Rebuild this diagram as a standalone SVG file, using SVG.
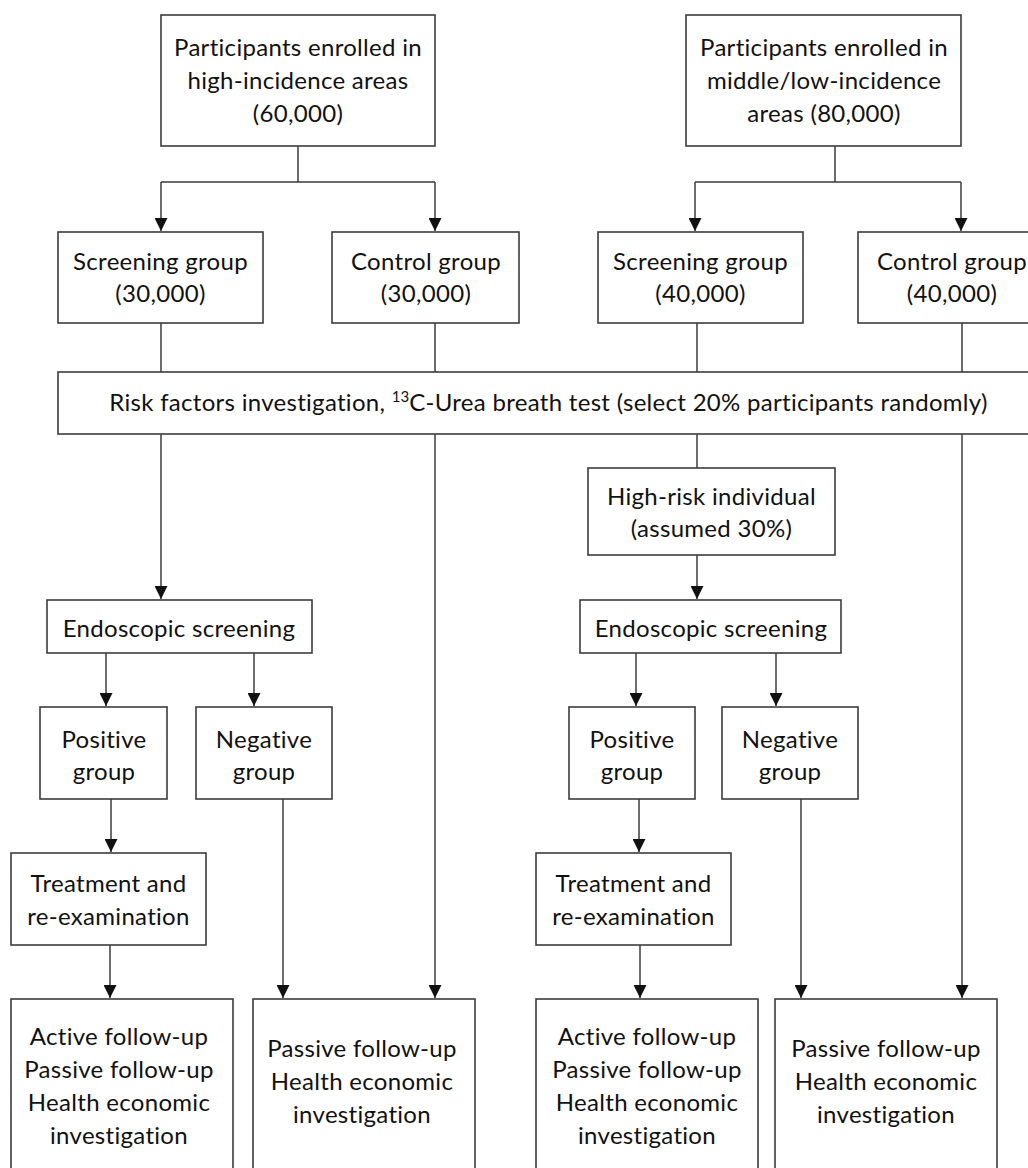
<svg xmlns="http://www.w3.org/2000/svg" width="1028" height="1168" viewBox="0 0 1028 1168">
<style>
.box{fill:#fff;stroke:#3c3c3c;stroke-width:1.6}
.t{font-family:Lato,"Open Sans","Liberation Sans",sans-serif;font-size:24px;letter-spacing:0.3px;fill:#111;text-anchor:middle}
.sup{font-size:15px;letter-spacing:0}
.c{fill:none;stroke:#3c3c3c;stroke-width:1.5}
</style>
<defs>
<marker id="ah" markerUnits="userSpaceOnUse" markerWidth="13" markerHeight="13" refX="13" refY="6.5" orient="auto">
<path d="M0,0 L13,6.5 L0,13 z" fill="#111"/>
</marker>
</defs>
<rect width="1028" height="1168" fill="#fff"/>
<g id="connectors">
<path class="c" d="M298,146 V182 M161,182 H435"/>
<path class="c" d="M161,182 V231" marker-end="url(#ah)"/>
<path class="c" d="M435,182 V231" marker-end="url(#ah)"/>
<path class="c" d="M835,146 V182 M695,182 H961"/>
<path class="c" d="M695,182 V231" marker-end="url(#ah)"/>
<path class="c" d="M961,182 V231" marker-end="url(#ah)"/>
<path class="c" d="M161,323 V372 M435,323 V372 M697,323 V372 M962,323 V372"/>
<path class="c" d="M161,434 V599" marker-end="url(#ah)"/>
<path class="c" d="M435,434 V998" marker-end="url(#ah)"/>
<path class="c" d="M697,434 V468"/>
<path class="c" d="M962,434 V998" marker-end="url(#ah)"/>
<path class="c" d="M697,555 V599" marker-end="url(#ah)"/>
<path class="c" d="M106,653 V706" marker-end="url(#ah)"/>
<path class="c" d="M254,653 V706" marker-end="url(#ah)"/>
<path class="c" d="M636,653 V706" marker-end="url(#ah)"/>
<path class="c" d="M776,653 V706" marker-end="url(#ah)"/>
<path class="c" d="M111,799 V852" marker-end="url(#ah)"/>
<path class="c" d="M639,799 V852" marker-end="url(#ah)"/>
<path class="c" d="M283,799 V998" marker-end="url(#ah)"/>
<path class="c" d="M801,799 V998" marker-end="url(#ah)"/>
<path class="c" d="M110,945 V998" marker-end="url(#ah)"/>
<path class="c" d="M640,945 V998" marker-end="url(#ah)"/>
</g>
<g id="n-high">
<rect class="box" x="161" y="15" width="274" height="131"/>
<text class="t" x="298" y="56">Participants enrolled in</text>
<text class="t" x="298" y="89">high-incidence areas</text>
<text class="t" x="298" y="122">(60,000)</text>
</g>
<g id="n-mid">
<rect class="box" x="686" y="15" width="275" height="131"/>
<text class="t" x="824" y="56">Participants enrolled in</text>
<text class="t" x="824" y="89">middle/low-incidence</text>
<text class="t" x="824" y="122">areas (80,000)</text>
</g>
<g id="n-scr1">
<rect class="box" x="58" y="232" width="205" height="91"/>
<text class="t" x="160.5" y="270">Screening group</text>
<text class="t" x="160.5" y="302">(30,000)</text>
</g>
<g id="n-ctl1">
<rect class="box" x="332" y="232" width="187" height="91"/>
<text class="t" x="426" y="270">Control group</text>
<text class="t" x="426" y="302">(30,000)</text>
</g>
<g id="n-scr2">
<rect class="box" x="598" y="232" width="205" height="91"/>
<text class="t" x="700.5" y="270">Screening group</text>
<text class="t" x="700.5" y="302">(40,000)</text>
</g>
<g id="n-ctl2">
<rect class="box" x="858" y="232" width="188" height="91"/>
<text class="t" x="952" y="270">Control group</text>
<text class="t" x="952" y="302">(40,000)</text>
</g>
<g id="n-risk">
<rect class="box" x="58" y="372" width="981" height="62"/>
<text class="t" x="548.5" y="411">Risk factors investigation, <tspan class="sup" dy="-9">13</tspan><tspan dy="9">C-Urea breath test (select 20% participants randomly)</tspan></text>
</g>
<g id="n-hrisk">
<rect class="box" x="588" y="468" width="247" height="87"/>
<text class="t" x="711.5" y="505">High-risk individual</text>
<text class="t" x="711.5" y="537">(assumed 30%)</text>
</g>
<g id="n-endo1">
<rect class="box" x="47" y="600" width="265" height="53"/>
<text class="t" x="179" y="637">Endoscopic screening</text>
</g>
<g id="n-endo2">
<rect class="box" x="580" y="600" width="261" height="53"/>
<text class="t" x="711" y="637">Endoscopic screening</text>
</g>
<g id="n-pos1">
<rect class="box" x="40" y="707" width="127" height="92"/>
<text class="t" x="104" y="748">Positive</text>
<text class="t" x="104" y="780">group</text>
</g>
<g id="n-neg1">
<rect class="box" x="196" y="707" width="136" height="92"/>
<text class="t" x="264" y="748">Negative</text>
<text class="t" x="264" y="780">group</text>
</g>
<g id="n-pos2">
<rect class="box" x="569" y="707" width="126" height="92"/>
<text class="t" x="632" y="748">Positive</text>
<text class="t" x="632" y="780">group</text>
</g>
<g id="n-neg2">
<rect class="box" x="722" y="707" width="136" height="92"/>
<text class="t" x="790" y="748">Negative</text>
<text class="t" x="790" y="780">group</text>
</g>
<g id="n-treat1">
<rect class="box" x="11" y="853" width="195" height="92"/>
<text class="t" x="108.5" y="892">Treatment and</text>
<text class="t" x="108.5" y="925">re-examination</text>
</g>
<g id="n-treat2">
<rect class="box" x="536" y="853" width="195" height="92"/>
<text class="t" x="633.5" y="892">Treatment and</text>
<text class="t" x="633.5" y="925">re-examination</text>
</g>
<g id="n-fu1">
<rect class="box" x="11" y="999" width="222" height="190"/>
<text class="t" x="119" y="1045">Active follow-up</text>
<text class="t" x="119" y="1078">Passive follow-up</text>
<text class="t" x="119" y="1111">Health economic</text>
<text class="t" x="119" y="1144">investigation</text>
</g>
<g id="n-fu2">
<rect class="box" x="253" y="999" width="222" height="190"/>
<text class="t" x="362" y="1057">Passive follow-up</text>
<text class="t" x="362" y="1090">Health economic</text>
<text class="t" x="362" y="1123">investigation</text>
</g>
<g id="n-fu3">
<rect class="box" x="536" y="999" width="222" height="190"/>
<text class="t" x="647" y="1045">Active follow-up</text>
<text class="t" x="647" y="1078">Passive follow-up</text>
<text class="t" x="647" y="1111">Health economic</text>
<text class="t" x="647" y="1144">investigation</text>
</g>
<g id="n-fu4">
<rect class="box" x="775" y="999" width="222" height="190"/>
<text class="t" x="886" y="1057">Passive follow-up</text>
<text class="t" x="886" y="1090">Health economic</text>
<text class="t" x="886" y="1123">investigation</text>
</g>
</svg>
